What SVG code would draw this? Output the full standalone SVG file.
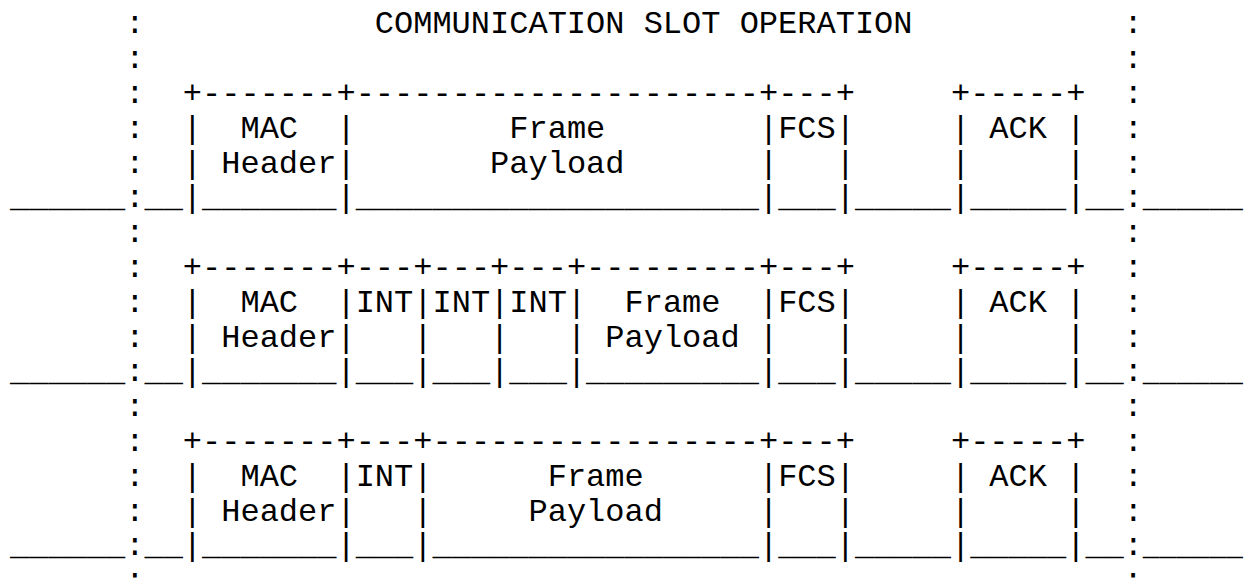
<svg xmlns="http://www.w3.org/2000/svg" width="1248" height="584" viewBox="0 0 1248 584">
<style>
text{font-family:"Liberation Mono","Courier New",monospace;font-size:32px;fill:#000;white-space:pre}
</style>
<rect x="0" y="0" width="1248" height="584" fill="#fff"/>
<g id="title" xml:space="preserve">
<text x="125.2" y="33.3">:</text>
<text x="374.8" y="33.3">COMMUNICATION SLOT OPERATION</text>
<text x="1123.6" y="33.3">:</text>
<text x="125.2" y="68.1">:</text>
<text x="1123.6" y="68.1">:</text>
</g>
<g id="frame-1" xml:space="preserve">
<text x="10" y="102.9">      :  +-------+---------------------+---+     +-----+  :</text>
<text x="10" y="137.7">      :  |  MAC  |        Frame        |FCS|     | ACK |  :</text>
<text x="10" y="172.5">      :  | Header|       Payload       |   |     |     |  :</text>
<text x="10" y="207.3">______:__|_______|_____________________|___|_____|_____|__:</text>
<text x="1142.8" y="207.3" textLength="100" lengthAdjust="spacingAndGlyphs">______</text>
<text x="125.2" y="242.1">:</text>
<text x="1123.6" y="242.1">:</text>
</g>
<g id="frame-2" xml:space="preserve">
<text x="10" y="276.9">      :  +-------+---+---+---+---------+---+     +-----+  :</text>
<text x="10" y="311.7">      :  |  MAC  |INT|INT|INT|  Frame  |FCS|     | ACK |  :</text>
<text x="10" y="346.5">      :  | Header|   |   |   | Payload |   |     |     |  :</text>
<text x="10" y="381.3">______:__|_______|___|___|___|_________|___|_____|_____|__:</text>
<text x="1142.8" y="381.3" textLength="100" lengthAdjust="spacingAndGlyphs">______</text>
<text x="125.2" y="416.1">:</text>
<text x="1123.6" y="416.1">:</text>
</g>
<g id="frame-3" xml:space="preserve">
<text x="10" y="450.9">      :  +-------+---+-----------------+---+     +-----+  :</text>
<text x="10" y="485.7">      :  |  MAC  |INT|      Frame      |FCS|     | ACK |  :</text>
<text x="10" y="520.5">      :  | Header|   |     Payload     |   |     |     |  :</text>
<text x="10" y="555.3">______:__|_______|___|_________________|___|_____|_____|__:</text>
<text x="1142.8" y="555.3" textLength="100" lengthAdjust="spacingAndGlyphs">______</text>
<text x="125.2" y="590.1">:</text>
<text x="1123.6" y="590.1">:</text>
</g>
<g id="connectors"></g>
</svg>
